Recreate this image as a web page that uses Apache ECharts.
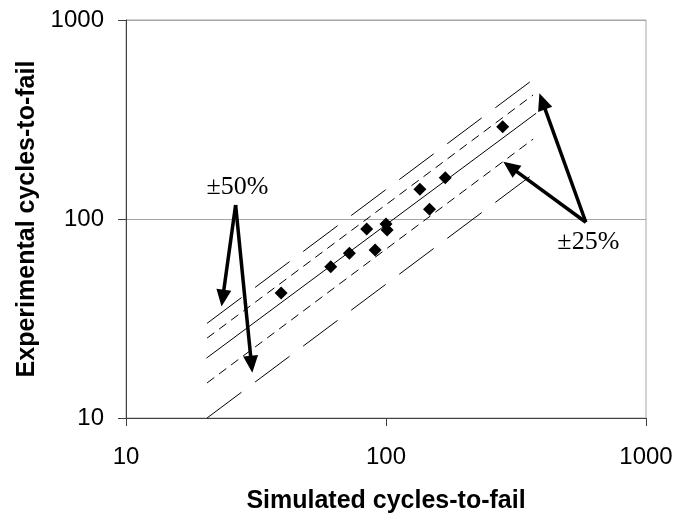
<!DOCTYPE html>
<html>
<head>
<meta charset="utf-8">
<script src="https://cdn.jsdelivr.net/npm/echarts@6/dist/echarts.min.js"></script>
<style>
html,body{margin:0;padding:0;background:#fff;}
#chart{width:688px;height:513px;}
</style>
</head>
<body>
<div id="chart"></div>
<script>
// Data points (simulated vs experimental cycles-to-fail)
const simulated    = [39.5, 61.3, 72.3, 84.3, 90.8, 100, 101, 135, 147, 169, 281];
const experimental = [42.5, 57.5, 67.3, 89,   69.8, 94.5, 88, 141, 112, 161, 291];

// Guide lines (start / end points in data units, as drawn)
const lineOneToOne = [[20.4, 20], [378, 340]];
const linePlus25   = [[20.5, 25.2], [368, 420]];
const lineMinus25  = [[20.5, 15], [368, 252]];
const linePlus50   = [[20.5, 29.9], [385, 525]];
const lineMinus50  = [[20.5, 10], [379, 173]];

// Annotation arrows: [fromX, fromY, toX, toY] in data units
const arrows = [
  [26.4, 117.6, 23.3, 36.3],
  [26.4, 117.6, 30.6, 16.9],
  [587, 96.3, 389, 428],
  [587, 96.3, 282.6, 194]
];

// Annotation labels
const labelText = ['±50%', '±25%'];
const labelPos  = [[26.85, 145.3], [600, 76.2]];

const chart = echarts.init(document.getElementById('chart'), null, {renderer: 'canvas'});

function guide(data, type) {
  return {
    type: 'line', data: data, symbol: 'none', silent: true, animation: false,
    lineStyle: {color: '#000', width: 1, type: type}, z: 2
  };
}

function renderArrow(params, api) {
  const p1 = api.coord([api.value(0), api.value(1)]);
  const p2 = api.coord([api.value(2), api.value(3)]);
  const dx = p2[0] - p1[0], dy = p2[1] - p1[1];
  const len = Math.sqrt(dx * dx + dy * dy);
  const ux = dx / len, uy = dy / len;
  const nx = -uy, ny = ux;
  const L = 17, W = 7.5;
  const bx = p2[0] - ux * L, by = p2[1] - uy * L;
  return {
    type: 'group',
    children: [
      {type: 'line', shape: {x1: p1[0], y1: p1[1], x2: bx + ux * 2, y2: by + uy * 2},
       style: {stroke: '#000', lineWidth: 3.5}},
      {type: 'polygon', shape: {points: [[p2[0], p2[1]], [bx + nx * W, by + ny * W], [bx - nx * W, by - ny * W]]},
       style: {fill: '#000'}}
    ]
  };
}

const option = {
  animation: false,
  grid: {left: 126, right: 42, top: 20, bottom: 95, show: true, borderColor: '#a6a6a6', borderWidth: 1,
    containLabel: false, outerBoundsMode: 'none'},
  xAxis: {
    type: 'log', logBase: 10, min: 10, max: 1000,
    name: 'Simulated cycles-to-fail', nameLocation: 'middle', nameGap: 71,
    nameTextStyle: {fontFamily: 'Liberation Sans', fontWeight: 'bold', fontSize: 25, color: '#000'},
    axisLine: {show: true, lineStyle: {color: '#404040', width: 1}},
    axisTick: {show: true, inside: false, length: 8, lineStyle: {color: '#404040'}},
    minorTick: {show: false},
    splitLine: {show: false},
    axisLabel: {fontFamily: 'Liberation Sans', fontSize: 24, color: '#000', margin: 27,
      formatter: v => String(Math.round(v)), showMinLabel: true, showMaxLabel: true}
  },
  yAxis: {
    type: 'log', logBase: 10, min: 10, max: 1000,
    name: 'Experimental cycles-to-fail', nameLocation: 'middle', nameGap: 86, nameRotate: 90,
    nameTextStyle: {fontFamily: 'Liberation Sans', fontWeight: 'bold', fontSize: 25, color: '#000'},
    axisLine: {show: true, lineStyle: {color: '#404040', width: 1}},
    axisTick: {show: true, inside: false, length: 8, lineStyle: {color: '#404040'}},
    minorTick: {show: false},
    splitLine: {show: true, lineStyle: {color: '#a6a6a6', width: 1}},
    axisLabel: {fontFamily: 'Liberation Sans', fontSize: 24, color: '#000', margin: 22,
      formatter: v => String(Math.round(v)), showMinLabel: true, showMaxLabel: true}
  },
  series: [
    guide(lineMinus50, [43, 17]),
    guide(lineMinus25, [9, 6]),
    guide(lineOneToOne, 'solid'),
    guide(linePlus25, [9, 6]),
    guide(linePlus50, [43, 17]),
    {
      type: 'scatter', symbol: 'diamond', symbolSize: 13, z: 5,
      itemStyle: {color: '#000', opacity: 1},
      data: simulated.map((x, i) => [x, experimental[i]])
    },
    {
      type: 'scatter', symbol: 'circle', symbolSize: 1, z: 6, silent: true,
      itemStyle: {color: 'rgba(255,255,255,0)', opacity: 1},
      label: {show: true, position: 'inside', formatter: p => labelText[p.dataIndex],
        fontFamily: 'Liberation Serif', fontSize: 26, color: '#000', opacity: 1},
      data: labelPos
    },
    {
      type: 'custom', silent: true, z: 7, clip: false,
      encode: {x: [0, 2], y: [1, 3]},
      renderItem: renderArrow,
      data: arrows
    }
  ]
};
chart.setOption(option);
</script>
</body>
</html>
